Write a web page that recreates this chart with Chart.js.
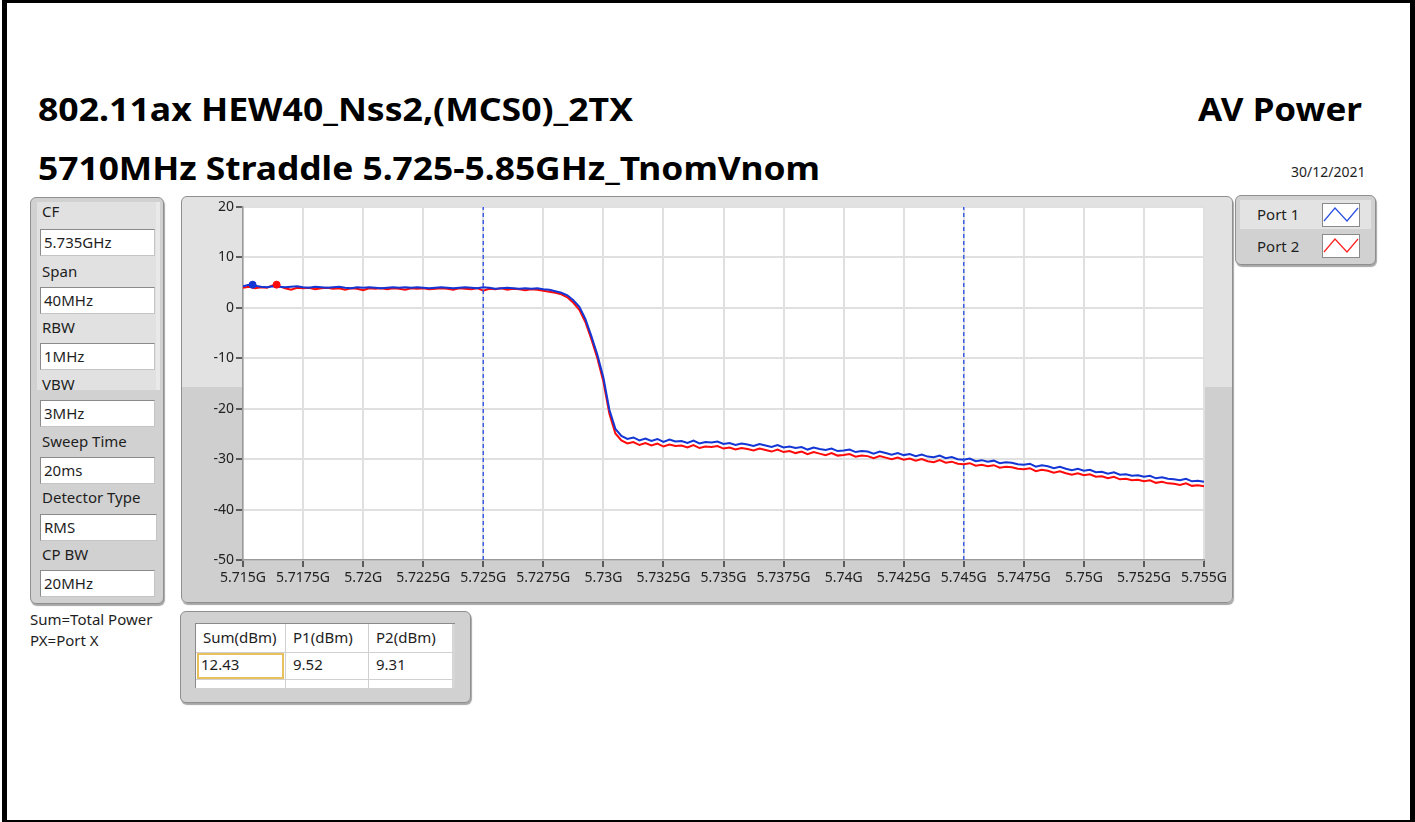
<!DOCTYPE html>
<html><head><meta charset="utf-8">
<title>AV Power</title>
<script src="https://cdn.jsdelivr.net/npm/chart.js@4.4.1/dist/chart.umd.min.js"></script>
<style>
html,body{margin:0;padding:0;background:#fff;}
body{width:1415px;height:822px;position:relative;overflow:hidden;font-family:"Noto Sans","Open Sans",sans-serif;color:#1e1e1e;}
.frame{position:absolute;left:2px;top:0;width:1413px;height:822px;box-sizing:border-box;border-left:5px solid #000;border-top:3px solid #000;border-right:5px solid #000;border-bottom:2px solid #000;}
.t{position:absolute;white-space:nowrap;line-height:1;}
.big{font-weight:700;font-size:33px;color:#000;transform-origin:0 0;}
.lbl{font-size:15px;}
.panel{position:absolute;box-sizing:border-box;border:1px solid #8f8f8f;border-radius:6px;box-shadow:1px 2px 1px rgba(0,0,0,0.35);background:#d1d1d1;}
.inp{position:absolute;box-sizing:border-box;background:#fff;border:1px solid #8a8a8a;border-right-color:#c4c4c4;border-bottom-color:#c4c4c4;font-size:15px;line-height:24px;padding-left:3px;}
.cell{position:absolute;box-sizing:border-box;font-size:15px;line-height:1;padding-left:7px;}
</style></head>
<body>
<div class="frame"></div>

<div class="t big" id="t1" data-w="595" style="left:38px;top:92px;">802.11ax HEW40_Nss2,(MCS0)_2TX</div>
<div class="t big" id="t2" data-w="782" style="left:38px;top:151px;">5710MHz Straddle 5.725-5.85GHz_TnomVnom</div>
<div class="t big" id="t3" data-w="164" style="left:1198px;top:92px;">AV Power</div>
<div class="t" style="left:1291px;top:165px;font-size:14px;">30/12/2021</div>

<!-- left settings panel -->
<div class="panel" style="left:30px;top:197px;width:134px;height:407px;"></div>
<div style="position:absolute;left:37px;top:202px;width:119px;height:188px;background:#e1e1e1;"></div>
<div style="position:absolute;left:156px;top:202px;width:4px;height:188px;background:#e9e9e9;"></div>
<div id="settings"></div>

<div class="t lbl" style="left:30px;top:612px;">Sum=Total Power</div>
<div class="t lbl" style="left:30px;top:633px;">PX=Port X</div>

<!-- chart panel -->
<div class="panel" style="left:181px;top:196px;width:1052px;height:407px;background:linear-gradient(#e2e2e2 0,#e2e2e2 190px,#cfcfcf 190px);"></div>
<canvas id="c" width="1051" height="406" style="position:absolute;left:181px;top:196px;"></canvas>

<!-- legend panel -->
<div class="panel" style="left:1235px;top:195px;width:141px;height:70px;"></div>
<div style="position:absolute;left:1240px;top:200px;width:131px;height:29px;background:#e3e3e3;"></div>
<div class="t lbl" style="left:1257px;top:207px;">Port 1</div>
<div class="t lbl" style="left:1257px;top:239px;">Port 2</div>
<svg style="position:absolute;left:1322px;top:203px;" width="38" height="24"><rect x="0.5" y="0.5" width="37" height="23" fill="#fff" stroke="#8a8a8a"/><polyline points="2,18 13,5 25,18 36,5" fill="none" stroke="#2a50e0" stroke-width="1.2"/></svg>
<svg style="position:absolute;left:1322px;top:234px;" width="38" height="24"><rect x="0.5" y="0.5" width="37" height="23" fill="#fff" stroke="#8a8a8a"/><polyline points="2,18 13,5 25,18 36,5" fill="none" stroke="#ff2020" stroke-width="1.2"/></svg>

<!-- power table -->
<div class="panel" style="left:180px;top:611px;width:291px;height:92px;"></div>
<div style="position:absolute;left:195px;top:623px;width:260px;height:65px;background:#fff;border-top:1px solid #8a8a8a;border-left:1px solid #8a8a8a;box-sizing:border-box;"></div>
<div id="table"></div>

<script>
// ---------- data ----------
const startFreqGHz = 5.715;
const stepFreqGHz = 0.00025;

const port1dBm = [
 4.3, 4.6, 4.4, 4.2, 4.1, 4.3, 4.2, 4.1, 4.2, 4.3,
 4.1, 4.0, 4.2, 4.1, 4.0, 4.1, 4.2, 4.0, 3.9, 4.1,
 4.0, 4.1, 4.0, 3.9, 4.0, 4.1, 4.0, 4.1, 4.0, 4.1,
 4.0, 3.9, 4.0, 4.1, 4.0, 3.9, 4.0, 4.1, 4.0, 3.9,
 4.1, 4.0, 3.8, 3.9, 4.0, 3.9, 3.8, 3.9, 3.8, 3.9,
 3.7,
 3.6, 3.3, 3.0, 2.5, 1.5, 0.2, -2.2, -5.6, -9.3, -13.8, -20.2, -24.0, -25.4,
 -26.0, -25.7, -26.3, -25.9, -26.4, -26.0, -26.6,
 -26.1, -26.5, -26.4, -26.8, -26.3, -26.9, -26.6, -26.7, -26.5, -27.0,
 -26.8, -27.2, -26.9, -27.1, -27.4, -27.0, -27.3, -27.6, -27.2, -27.7,
 -27.5, -27.8, -27.6, -28.1, -27.7, -28.0, -28.2, -27.9, -28.4, -28.3,
 -28.1, -28.6, -28.4, -28.5, -28.9, -28.5, -28.8, -29.1, -28.8, -29.2,
 -29.0, -29.4, -29.1, -29.5, -29.6, -29.3, -29.8, -29.6, -30.0, -30.1,
 -29.9, -30.4, -30.2, -30.5, -30.3, -30.8, -30.6, -30.7, -31.0, -31.1,
 -30.9, -31.5, -31.2, -31.4, -31.8, -31.5, -31.9, -32.2, -31.9, -32.3,
 -32.1, -32.6, -32.5, -32.9, -32.6, -33.1, -33.0, -33.3, -33.2, -33.5,
 -33.3, -33.8, -33.6, -33.9, -34.0, -34.2, -33.9, -34.4, -34.3, -34.5
];

const port2dBm = [
 4.0, 4.2, 3.9, 4.1, 4.0, 4.5, 4.3, 3.9, 3.6, 4.0,
 3.9, 4.0, 3.7, 3.9, 4.0, 3.8, 3.9, 3.6, 3.9, 3.8,
 3.5, 3.9, 3.8, 3.9, 3.7, 3.9, 3.8, 3.6, 3.9, 3.8,
 3.9, 3.7, 3.8, 3.9, 3.8, 3.6, 3.9, 3.8, 3.7, 3.9,
 3.4, 3.8, 3.7, 3.9, 3.6, 3.8, 3.7, 3.5, 3.7, 3.6,
 3.4,
 3.2, 3.0, 2.7, 2.1, 1.0, -0.4, -2.8, -6.2, -10.0, -14.6, -21.0, -24.9, -26.3,
 -26.9, -26.6, -27.2, -26.8, -27.3, -26.9, -27.5,
 -27.1, -27.4, -27.3, -27.7, -27.2, -27.8, -27.5, -27.6, -27.4, -27.9,
 -27.7, -28.1, -27.8, -28.0, -28.3, -27.9, -28.2, -28.5, -28.1, -28.6,
 -28.4, -28.8, -28.5, -29.0, -28.6, -28.9, -29.2, -28.8, -29.3, -29.2,
 -29.0, -29.5, -29.3, -29.4, -29.8, -29.4, -29.7, -30.0, -29.7, -30.1,
 -29.9, -30.3, -30.0, -30.4, -30.6, -30.2, -30.7, -30.5, -30.9, -31.0,
 -30.8, -31.3, -31.1, -31.4, -31.2, -31.7, -31.5, -31.6, -31.9, -32.0,
 -31.8, -32.4, -32.1, -32.3, -32.7, -32.4, -32.8, -33.1, -32.8, -33.2,
 -33.0, -33.5, -33.4, -33.8, -33.5, -34.0, -33.9, -34.2, -34.1, -34.4,
 -34.2, -34.7, -34.5, -34.8, -34.9, -35.1, -34.8, -35.3, -35.2, -35.4
];

const port1Marker = [{x: 5.7154, y: 4.6}];
const port2Marker = [{x: 5.7164, y: 4.6}];
const cpBwEdgesGHz = [5.725, 5.745];

const xTickValues = [5.715, 5.7175, 5.72, 5.7225, 5.725, 5.7275, 5.73, 5.7325, 5.735, 5.7375, 5.74, 5.7425, 5.745, 5.7475, 5.75, 5.7525, 5.755];
const xTickLabels = ["5.715G","5.7175G","5.72G","5.7225G","5.725G","5.7275G","5.73G","5.7325G","5.735G","5.7375G","5.74G","5.7425G","5.745G","5.7475G","5.75G","5.7525G","5.755G"];
const yTickValues = [-50, -40, -30, -20, -10, 0, 10, 20];
const yTickLabels = ["-50", "-40", "-30", "-20", "-10", "0", "10", "20"];

const settingLabels = ["CF", "Span", "RBW", "VBW", "Sweep Time", "Detector Type", "CP BW"];
const settingValues = ["5.735GHz", "40MHz", "1MHz", "3MHz", "20ms", "RMS", "20MHz"];

const tableHeaders = ["Sum(dBm)", "P1(dBm)", "P2(dBm)"];
const tableValues = ["12.43", "9.52", "9.31"];

// ---------- settings panel ----------
(function(){
  const host = document.getElementById('settings');
  const labelCenters = [212, 272, 328, 385, 442, 498, 555];
  const inputTops = [229, 287, 343, 400, 457, 514, 570];
  let html = '';
  settingLabels.forEach((l, i) => {
    html += `<div class="t lbl" style="left:42px;top:${labelCenters[i]-8}px;">${l}</div>`;
    const w = i === 5 ? 117 : 115;
    html += `<div class="inp" style="left:40px;top:${inputTops[i]}px;width:${w}px;height:27px;">${settingValues[i]}</div>`;
  });
  host.innerHTML = html;
})();

// ---------- table ----------
(function(){
  const host = document.getElementById('table');
  const colX = [196, 286, 369];
  let html = '';
  html += `<div style="position:absolute;left:196px;top:652px;width:257px;height:1px;background:#d0d0d0;"></div>`;
  html += `<div style="position:absolute;left:196px;top:679px;width:257px;height:1px;background:#d0d0d0;"></div>`;
  html += `<div style="position:absolute;left:285px;top:624px;width:1px;height:64px;background:#d0d0d0;"></div>`;
  html += `<div style="position:absolute;left:368px;top:624px;width:1px;height:64px;background:#d0d0d0;"></div>`;
  html += `<div style="position:absolute;left:452px;top:624px;width:3px;height:64px;background:#d6d6d6;"></div>`;
  html += `<div style="position:absolute;left:197px;top:653px;width:87px;height:26px;border:2px solid #e8c060;box-sizing:border-box;"></div>`;
  tableHeaders.forEach((h, i) => {
    html += `<div class="cell" style="left:${colX[i]}px;top:630px;">${h}</div>`;
    html += `<div class="cell" style="left:${colX[i]}px;top:657px;${i===0?'padding-left:5px;':''}">${tableValues[i]}</div>`;
  });
  host.innerHTML = html;
})();

// ---------- fit title widths ----------
document.querySelectorAll('[data-w]').forEach(el => {
  const w = el.getBoundingClientRect().width;
  el.style.transform = `scaleX(${(+el.dataset.w) / w})`;
});

// ---------- chart ----------
const freqsGHz = port1dBm.map((_, i) => startFreqGHz + i * stepFreqGHz);
const toXY = arr => arr.map((v, i) => ({x: freqsGHz[i], y: v}));

const plotBg = {
  id: 'plotBg',
  beforeDraw(c) {
    const {ctx, chartArea: a} = c;
    ctx.save();
    ctx.fillStyle = '#ffffff';
    ctx.fillRect(a.left, a.top, a.right - a.left, a.bottom - a.top);
    ctx.restore();
  }
};

const tickFont = {family: '"Noto Sans", "Open Sans", sans-serif', size: 14};

const dashed = cpBwEdgesGHz.map(f => ({
  data: [{x: f, y: -50}, {x: f, y: 20}],
  borderColor: '#3558e4', borderWidth: 1.4, borderDash: [4, 3],
  pointRadius: 0, order: 0
}));

new Chart(document.getElementById('c'), {
  type: 'line',
  data: {
    datasets: [
      {label: 'Port 1', data: toXY(port1dBm), borderColor: '#1436d4', borderWidth: 2, pointRadius: 0, tension: 0, order: 1},
      {label: 'Port 2', data: toXY(port2dBm), borderColor: '#ff0a0a', borderWidth: 2, pointRadius: 0, tension: 0, order: 2},
      {label: 'M1', data: port1Marker, showLine: false, pointRadius: 3.5, pointBackgroundColor: '#1436d4', pointBorderColor: '#1436d4', order: 0},
      {label: 'M2', data: port2Marker, showLine: false, pointRadius: 3.5, pointBackgroundColor: '#ff0a0a', pointBorderColor: '#ff0a0a', order: 0},
      ...dashed
    ]
  },
  options: {
    responsive: false,
    animation: false,
    devicePixelRatio: 1,
    layout: {padding: {left: 0, top: 11, right: 28, bottom: 0}},
    plugins: {legend: {display: false}, tooltip: {enabled: false}},
    scales: {
      x: {
        type: 'linear', min: 5.715, max: 5.755,
        afterBuildTicks(s) { s.ticks = xTickValues.map(v => ({value: v})); },
        afterFit(s) { s.height = 42; },
        ticks: {callback: (v, i) => xTickLabels[i], autoSkip: false, maxRotation: 0, minRotation: 0, font: tickFont, color: '#222', padding: 3},
        grid: {color: '#e0e0e0', lineWidth: 2, tickColor: '#333', tickLength: 7, tickWidth: 1.5},
        border: {color: '#9a9a9a', width: 1.5}
      },
      y: {
        min: -50, max: 20,
        afterBuildTicks(s) { s.ticks = yTickValues.map(v => ({value: v})); },
        afterFit(s) { s.width = 62; },
        ticks: {callback: (v, i) => yTickLabels[i], font: tickFont, color: '#222', padding: 2},
        grid: {color: '#e0e0e0', lineWidth: 2, tickColor: '#333', tickLength: 7, tickWidth: 1.5},
        border: {color: '#9a9a9a', width: 1.5}
      }
    }
  },
  plugins: [plotBg]
});
</script>
</body></html>
